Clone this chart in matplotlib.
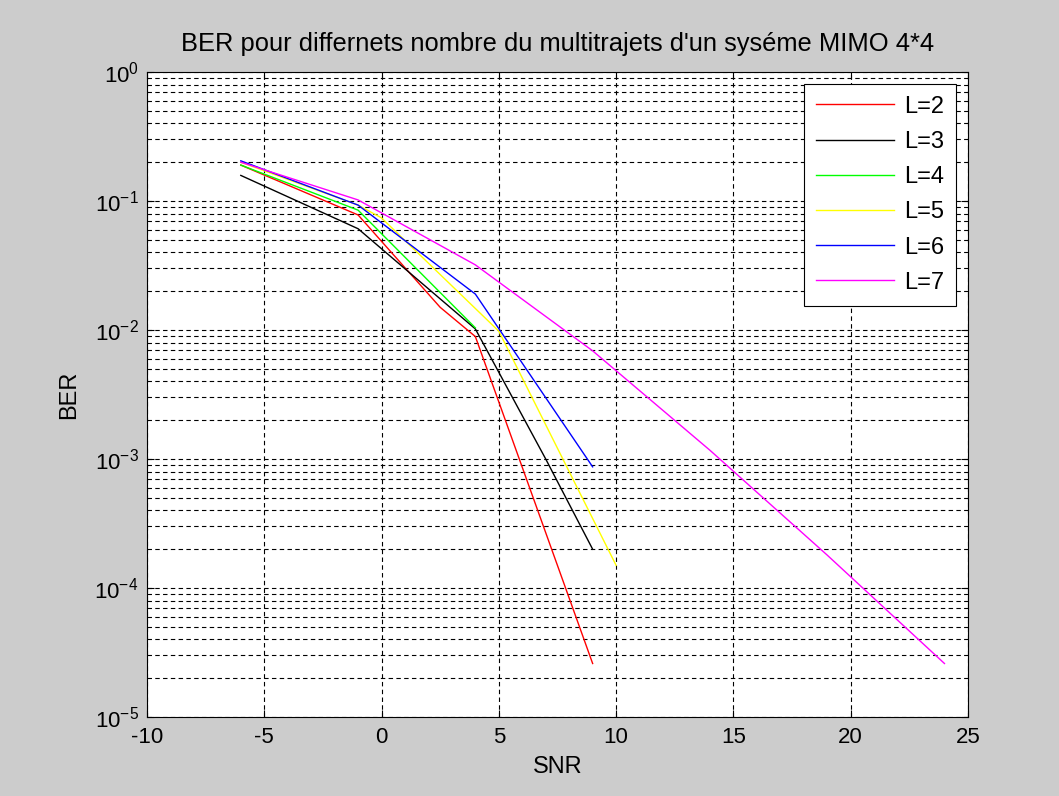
import matplotlib
matplotlib.use("Agg")
import matplotlib.pyplot as plt
import numpy as np
from matplotlib.ticker import LogLocator, FixedLocator, NullFormatter, FuncFormatter

plt.rcParams['font.family'] = ['Liberation Sans', 'DejaVu Sans']
plt.rcParams['mathtext.fontset'] = 'custom'
plt.rcParams['mathtext.rm'] = 'Liberation Sans'
plt.rcParams['mathtext.it'] = 'Liberation Sans'
plt.rcParams['axes.unicode_minus'] = False

# Data (SNR in dB, BER)
snr_L2 = [-6, -1, 2.5, 4, 9]
ber_L2 = [0.19, 0.078, 0.015, 0.0089, 2.6e-5]

snr_L3 = [-6, -1, 4, 7, 9]
ber_L3 = [0.158, 0.061, 0.0102, 0.001, 2.0e-4]

snr_L4 = [-6, -1, 4]
ber_L4 = [0.19, 0.085, 0.0104]

snr_L5 = [-6, -1, 0, 5, 10]
ber_L5 = [0.2, 0.093, 0.074, 0.0098, 1.5e-4]

snr_L6 = [-6, -1, 4, 9]
ber_L6 = [0.205, 0.093, 0.019, 8.7e-4]

snr_L7 = [-6, -1, 4, 9, 14, 19, 24]
ber_L7 = [0.2, 0.102, 0.032, 0.0069, 0.00117, 1.8e-4, 2.6e-5]

labels = ['L=2', 'L=3', 'L=4', 'L=5', 'L=6', 'L=7']
colors = ['#ff0000', '#000000', '#00ff00', '#ffff00', '#0000ff', '#ff00ff']

x_ticks = [-10, -5, 0, 5, 10, 15, 20, 25]

FS = 16

fig = plt.figure(figsize=(10.59, 7.96), dpi=100, facecolor='#cccccc')
ax = fig.add_axes([0.1388, 0.0992, 0.7752, 0.8103])
ax.set_facecolor('white')

series = [(snr_L2, ber_L2), (snr_L3, ber_L3), (snr_L4, ber_L4),
          (snr_L5, ber_L5), (snr_L6, ber_L6), (snr_L7, ber_L7)]
for (x, y), c, lab in zip(series, colors, labels):
    ax.semilogy(x, y, color=c, lw=1.0, label=lab)

ax.set_xlim(-10, 25)
ax.set_ylim(1e-5, 1)
ax.xaxis.set_major_locator(FixedLocator(x_ticks))
ax.xaxis.set_major_formatter(FuncFormatter(lambda v, p: '%d' % v))
ax.yaxis.set_major_locator(LogLocator(base=10, numticks=10))
ax.yaxis.set_major_formatter(FuncFormatter(
    lambda v, p: r'$\mathregular{10^{%d}}$' % int(round(np.log10(v)))))
ax.yaxis.set_minor_locator(LogLocator(base=10, subs=np.arange(2, 10), numticks=20))
ax.yaxis.set_minor_formatter(NullFormatter())

gridkw = dict(color='black', linestyle=(0, (4, 3)), linewidth=0.8)
ax.grid(True, which='major', axis='both', **gridkw)
ax.grid(True, which='minor', axis='y', **gridkw)

ax.tick_params(which='both', direction='in', top=True, right=True, labelsize=FS)
ax.tick_params(which='major', length=5)
ax.tick_params(which='minor', length=3)
ax.tick_params(axis='x', pad=7)
ax.tick_params(axis='y', pad=6)
for s in ax.spines.values():
    s.set_linewidth(0.8)

ax.set_title("BER pour differnets nombre du multitrajets d'un syséme MIMO 4*4",
             fontsize=18.4, pad=15)
ax.set_xlabel('SNR', fontsize=FS + 1, labelpad=6)
ax.set_ylabel('BER', fontsize=FS + 1, labelpad=10)

leg = ax.legend(loc='upper right', fontsize=FS + 1, fancybox=False, framealpha=1,
                edgecolor='black', handlelength=3.3, handletextpad=0.45,
                labelspacing=0.56, borderaxespad=0.5, borderpad=0.5)
leg.get_frame().set_linewidth(0.8)

fig.savefig('out.png', dpi=100, facecolor=fig.get_facecolor())
